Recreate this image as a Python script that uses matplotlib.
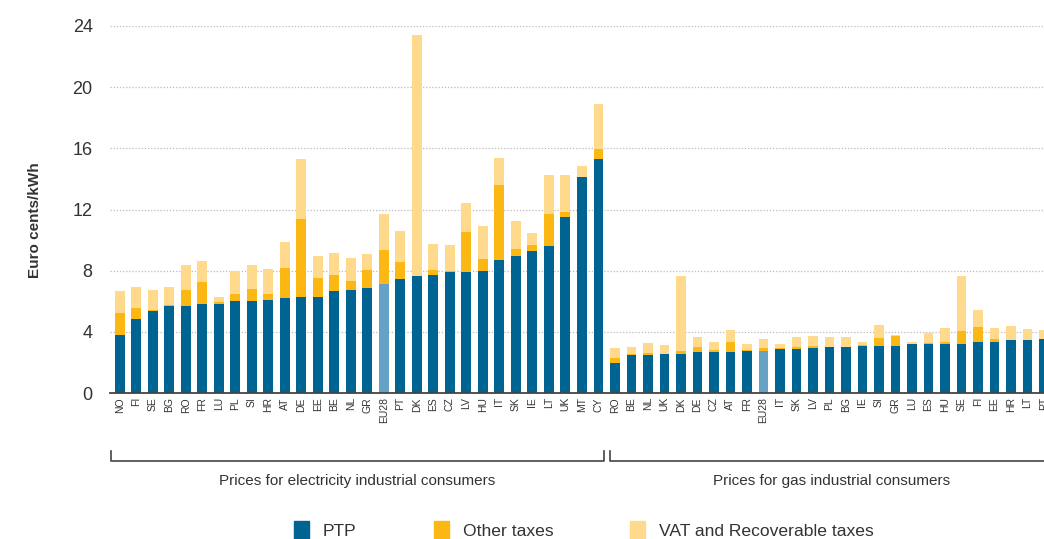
import matplotlib
matplotlib.use("Agg")
import matplotlib.pyplot as plt
import matplotlib.transforms as mtransforms
from matplotlib.lines import Line2D
from matplotlib.patches import Patch
import numpy as np

# ---- data ----
elec_countries = ["NO", "FI", "SE", "BG", "RO", "FR", "LU", "PL", "SI", "HR", "AT", "DE", "EE", "BE", "NL",
                  "GR", "EU28", "PT", "DK", "ES", "CZ", "LV", "HU", "IT", "SK", "IE", "LT", "UK", "MT", "CY"]
elec_ptp = [3.78, 4.85, 5.39, 5.68, 5.68, 5.83, 5.83, 6.00, 6.00, 6.11, 6.20, 6.29, 6.29, 6.66, 6.72,
            6.88, 7.16, 7.45, 7.62, 7.71, 7.90, 7.90, 7.97, 8.69, 8.95, 9.30, 9.59, 11.53, 14.10, 15.28]
elec_other = [1.48, 0.70, 0.05, 0.06, 1.04, 1.42, 0.11, 0.46, 0.79, 0.35, 1.97, 5.06, 1.22, 1.03, 0.62,
              1.15, 2.18, 1.13, 0.04, 0.35, 0.05, 2.65, 0.79, 4.89, 0.46, 0.35, 2.11, 0.28, 0.00, 0.70]
elec_vat = [1.38, 1.37, 1.28, 1.18, 1.62, 1.35, 0.37, 1.51, 1.55, 1.62, 1.68, 3.93, 1.44, 1.44, 1.52,
            1.07, 2.34, 1.99, 15.75, 1.70, 1.70, 1.90, 2.16, 1.79, 1.86, 0.83, 2.54, 2.43, 0.75, 2.95]

gas_countries = ["RO", "BE", "NL", "UK", "DK", "DE", "CZ", "AT", "FR", "EU28", "IT", "SK", "LV", "PL",
                 "BG", "IE", "SI", "GR", "LU", "ES", "HU", "SE", "FI", "EE", "HR", "LT", "PT"]
gas_ptp = [1.93, 2.48, 2.48, 2.55, 2.55, 2.66, 2.66, 2.66, 2.77, 2.75, 2.90, 2.90, 2.92, 3.01,
           3.01, 3.10, 3.10, 3.08, 3.19, 3.19, 3.19, 3.19, 3.36, 3.36, 3.45, 3.45, 3.50]
gas_other = [0.36, 0.09, 0.16, 0.02, 0.18, 0.33, 0.13, 0.66, 0.04, 0.17, 0.07, 0.11, 0.16, 0.02,
             0.02, 0.06, 0.50, 0.66, 0.04, 0.08, 0.15, 0.88, 0.97, 0.16, 0.02, 0.02, 0.05]
gas_vat = [0.63, 0.44, 0.63, 0.55, 4.89, 0.64, 0.57, 0.77, 0.38, 0.60, 0.22, 0.62, 0.63, 0.62,
           0.62, 0.20, 0.86, 0.08, 0.13, 0.64, 0.92, 3.55, 1.10, 0.74, 0.90, 0.73, 0.60]

section_labels = ["Prices for electricity industrial consumers", "Prices for gas industrial consumers"]
legend_labels = ["PTP", "Other taxes", "VAT and Recoverable taxes"]
y_ticks = [0, 4, 8, 12, 16, 20, 24]

# ---- style ----
C_PTP = "#006493"
C_PTP_EU = "#66a1c6"
C_OTHER = "#fbb714"
C_VAT = "#ffd98c"
TXT = "#333333"
REG = ["Liberation Sans", "DejaVu Sans"]

countries = elec_countries + gas_countries
ptp = np.array(elec_ptp + gas_ptp)
other = np.array(elec_other + gas_other)
vat = np.array(elec_vat + gas_vat)
x = np.arange(len(countries))

fig = plt.figure(figsize=(10.44, 5.39), dpi=100)
ax = fig.add_axes([110 / 1044, 146 / 539, 1 - 110 / 1044, (393 - 26) / 539])

ptp_colors = [C_PTP_EU if c == "EU28" else C_PTP for c in countries]
w = 0.6
ax.bar(x, ptp, width=w, color=ptp_colors, zorder=3)
ax.bar(x, other, width=w, bottom=ptp, color=C_OTHER, zorder=3)
ax.bar(x, vat, width=w, bottom=ptp + other, color=C_VAT, zorder=3)

ax.set_xlim(-0.6, 55.73)
ax.set_ylim(0, 24)
ax.set_yticks(y_ticks)
ax.set_yticklabels([str(t) for t in y_ticks], family=REG, fontsize=13, color=TXT)
ax.set_xticks(x)
ax.set_xticklabels(countries, rotation=90, family=REG, fontsize=7.5, color=TXT)
ax.tick_params(axis="x", length=0, pad=3)
ax.tick_params(axis="y", length=0, pad=12.5)

for s in ["top", "right", "left"]:
    ax.spines[s].set_visible(False)
ax.spines["bottom"].set_color("#444444")
ax.spines["bottom"].set_linewidth(1.3)
ax.spines["bottom"].set_zorder(4)

for t in y_ticks[1:]:
    ax.axhline(t, color="#bbbbbb", lw=0.9, ls=(0, (1, 1.5)), zorder=1)

ax.set_ylabel("Euro cents/kWh", family=REG, fontsize=11, fontweight="bold", color=TXT)
ax.yaxis.set_label_coords(-(110 - 42) / (1044 - 110), (393 - 220) / 367)

# brackets
tr = mtransforms.blended_transform_factory(ax.transData, fig.transFigure)
y_line = 1 - 461 / 539
y_tick = 1 - 451 / 539
brackets = [(-0.54, 29.31), (29.73, 57.5)]
for (a, b), lab in zip(brackets, section_labels):
    fig.add_artist(Line2D([a, a, b, b], [y_tick, y_line, y_line, y_tick], transform=tr,
                          color="#444444", lw=1.2, clip_on=False))
    fig.text((a + min(b, 56.5)) / 2, 1 - 481 / 539, lab, transform=tr, ha="center", va="center",
             family=REG, fontsize=11, color=TXT)

handles = [Patch(color=C_PTP), Patch(color=C_OTHER), Patch(color=C_VAT)]
fig.legend(handles, legend_labels, loc="center", bbox_to_anchor=(0.5594, 0.016), ncol=3,
           frameon=False, handlelength=0.86, handleheight=1.3, handletextpad=0.8,
           columnspacing=4.4, prop={"family": REG, "size": 12.6}, labelcolor=TXT)

fig.savefig("out.png", dpi=100)
